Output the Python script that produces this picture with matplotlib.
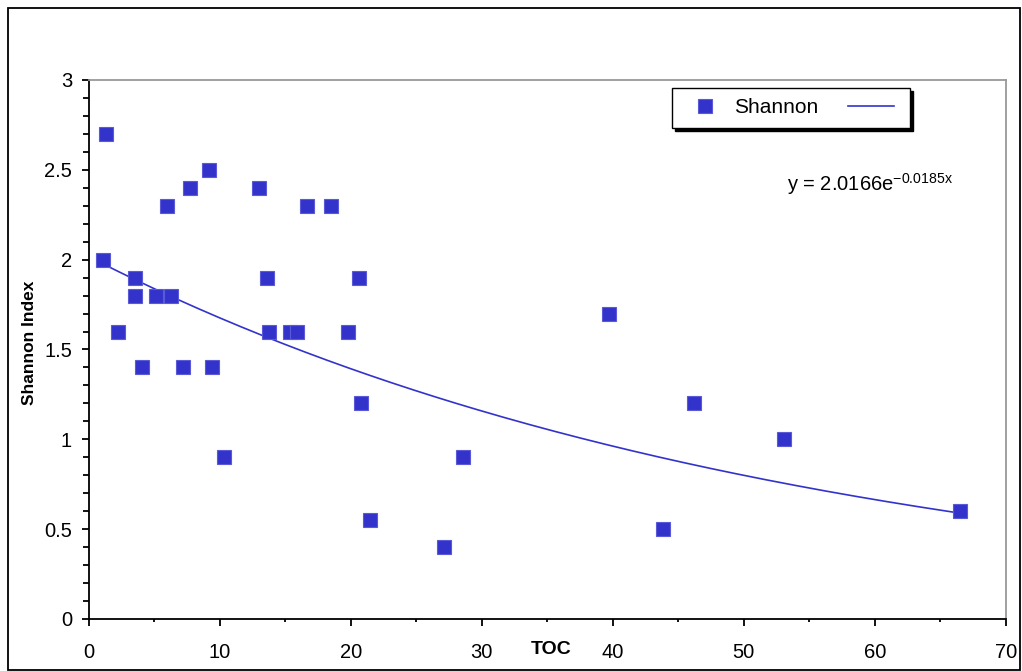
import numpy as np
import matplotlib
matplotlib.use("Agg")
import matplotlib.pyplot as plt
from matplotlib.lines import Line2D
from matplotlib.patches import Rectangle
from matplotlib.ticker import MultipleLocator, FormatStrFormatter

plt.rcParams['font.family'] = ['Liberation Sans', 'DejaVu Sans']
plt.rcParams['mathtext.fontset'] = 'custom'
plt.rcParams['mathtext.rm'] = 'Liberation Sans'
plt.rcParams['mathtext.it'] = 'Liberation Sans'

# data
toc = [1.1, 1.3, 2.2, 3.5, 3.5, 4.05, 5.1, 6.0, 6.3, 7.2, 7.7, 9.2, 9.4, 10.3,
       13.0, 13.6, 13.8, 15.4, 15.9, 16.7, 18.5, 19.8, 20.6, 20.8, 21.45,
       27.1, 28.6, 39.7, 43.8, 46.2, 53.1, 66.5]
shannon = [2.0, 2.7, 1.6, 1.9, 1.8, 1.4, 1.8, 2.3, 1.8, 1.4, 2.4, 2.5, 1.4, 0.9,
           2.4, 1.9, 1.6, 1.6, 1.6, 2.3, 2.3, 1.6, 1.9, 1.2, 0.55,
           0.4, 0.9, 1.7, 0.5, 1.2, 1.0, 0.6]

# exponential trendline as reported on the chart
fit_a = 2.0166
fit_b = -0.0185

blue = '#3333cc'

fig = plt.figure(figsize=(10.22, 6.71), dpi=100)
ax = fig.add_axes([0.0868, 0.0775, 0.8973, 0.8033])

ax.plot(toc, shannon, ls='none', marker='s', ms=10, mfc=blue, mec='#5a5ad8',
        mew=0.8, zorder=3)
xs = np.linspace(min(toc), max(toc), 200)
ax.plot(xs, fit_a * np.exp(fit_b * xs), color=blue, lw=1.2, zorder=2)

ax.set_xlim(0, 70)
ax.set_ylim(0, 3)
ax.xaxis.set_major_locator(MultipleLocator(10))
ax.xaxis.set_minor_locator(MultipleLocator(5))
ax.yaxis.set_major_locator(MultipleLocator(0.5))
ax.yaxis.set_minor_locator(MultipleLocator(0.1))
ax.yaxis.set_major_formatter(FormatStrFormatter('%g'))

ax.tick_params(axis='both', which='major', direction='out', length=5,
               width=1.3, labelsize=14.5, color='black')
ax.tick_params(axis='x', which='major', pad=12)
ax.tick_params(axis='y', which='major', pad=7)
ax.tick_params(axis='x', which='minor', direction='out', length=2.5, width=1.3)
ax.tick_params(axis='y', which='minor', direction='out', length=4.5, width=1.3)

for side in ['left', 'bottom']:
    ax.spines[side].set_color('black')
    ax.spines[side].set_linewidth(1.3)
for side in ['top', 'right']:
    ax.spines[side].set_color('#999999')
    ax.spines[side].set_linewidth(1.3)

ax.text(-0.065, 0.512, 'Shannon Index', rotation=90, ha='center', va='center',
        fontsize=12.5, fontweight='bold', transform=ax.transAxes)
ax.text(0.504, -0.0557, 'TOC', ha='center', va='center', fontsize=14,
        fontweight='bold', transform=ax.transAxes)

ax.text(0.7615, 0.794, r'y = 2.0166e$^{\mathregular{-0.0185x}}$', ha='left',
        va='baseline', fontsize=14.5, transform=ax.transAxes)

handles = [Line2D([], [], ls='none', marker='s', ms=10, mfc=blue, mec='#5a5ad8', mew=0.8),
           Line2D([], [], color=blue, lw=1.2)]
leg = ax.legend(handles, ['Shannon', ''], ncol=2, loc='upper left',
                bbox_to_anchor=(0.636, 0.985), borderaxespad=0, fontsize=15,
                frameon=True, fancybox=False, edgecolor='black',
                handlelength=2.2, handletextpad=0.3, columnspacing=1.4,
                borderpad=0.5,
                shadow={'color': 'black', 'alpha': 1})
leg.get_frame().set_linewidth(1.0)

# outer chart border
fig.patches.append(Rectangle((0.0078, 0.0015), 0.990, 0.9866, fill=False,
                             edgecolor='black', lw=1.3, transform=fig.transFigure,
                             figure=fig))

fig.savefig('out.png', dpi=100)
